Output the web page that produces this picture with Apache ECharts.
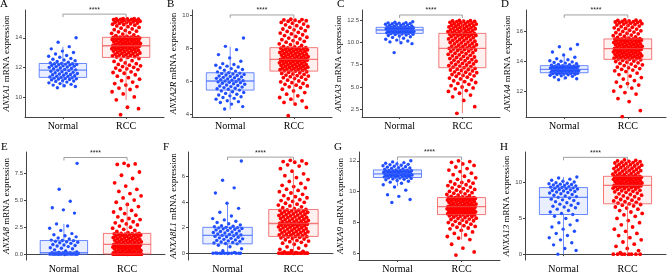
<!DOCTYPE html>
<html><head><meta charset="utf-8">
<script src="https://cdn.jsdelivr.net/npm/echarts@6/dist/echarts.min.js"></script>
<style>html,body{margin:0;padding:0;background:#fff}#c{width:669px;height:274px}</style>
</head><body><div id="c"></div>
<script>
const groups = ['Normal', 'RCC'];
const letters = ['A','B','C','D','E','F','G','H'];
const genes = ['ANXA1','ANXA2R','ANXA3','ANXA4','ANXA8','ANXA8L1','ANXA9','ANXA13'];
const sigLabel = '****';

// y-axis tick values per panel
const ticksA = [10, 12, 14];
const ticksB = [4, 6, 8, 10];
const ticksC = [2.5, 5, 7.5, 10, 12.5];
const ticksD = [12, 14, 16];
const ticksE = [0, 2.5, 5, 7.5];
const ticksF = [0, 2, 4, 6];
const ticksG = [6, 8, 10, 12];
const ticksH = [0, 5, 10];

// box stats [lower whisker, Q1, median, Q3, upper whisker] : Normal, RCC
const boxA = [[10.64, 11.32, 11.81, 12.26, 13.39], [9.78, 12.67, 13.46, 14.03, 15.3]];
const boxB = [[4.28, 5.45, 6.0, 6.5, 8.08], [4.65, 6.6, 7.31, 8.02, 9.74]];
const boxC = [[10.07, 11.0, 11.38, 11.68, 12.17], [2.05, 7.16, 9.33, 11.0, 12.5]];
const boxD = [[12.73, 13.22, 13.45, 13.69, 14.3], [12.18, 14.11, 14.82, 15.47, 16.73]];
const boxE = [[0, 0, 0.15, 1.26, 2.8], [0, 0.02, 0.9, 1.92, 4.75]];
const boxF = [[0, 0.73, 1.39, 2.02, 3.96], [0, 1.31, 2.32, 3.41, 6.5]];
const boxG = [[10.36, 10.92, 11.16, 11.41, 12.0], [6.9, 8.52, 9.04, 9.62, 12.0]];
const boxH = [[0, 5.55, 7.95, 9.32, 10.8], [0, 7.05, 9.64, 10.9, 13.2]];

// significance bracket heights
const sigY = [15.6, 10.0, 13.06, 17.07, 8.94, 7.5, 12.25, 13.55];

// expression values
const A_normal = [10.62,10.7,10.75,10.8,10.85,10.9,10.95,11.0,11.05,11.08,11.1,11.15,11.18,11.2,11.22,11.25,11.27,11.3,
11.32,11.35,11.38,11.4,11.43,11.46,11.5,11.52,11.55,11.58,11.6,11.63,11.66,11.7,11.74,11.78,11.8,
11.83,11.86,11.9,11.93,11.96,12.0,12.02,12.05,12.08,12.1,12.13,12.16,12.18,12.2,12.22,12.24,12.25,12.27,
12.3,12.35,12.4,12.45,12.5,12.55,12.6,12.68,12.75,12.8,12.9,13.0,13.1,13.25,13.4,13.7,14.0];
const A_rcc = [8.8,9.2,9.3,9.8,10.0,10.2,10.35,10.5,10.6,10.7,10.8,10.9,11.0,11.1,11.2,11.3,11.4,11.5,11.6,11.65,11.7,11.8,11.85,11.9,11.95,12.0,12.05,12.1,12.15,12.2,12.25,12.3,12.4,12.45,12.5,12.6,12.67,
12.7,12.72,12.75,12.78,12.8,12.83,12.85,12.88,12.9,12.92,12.95,12.97,13.0,13.02,13.05,13.07,13.1,13.12,13.14,13.16,13.18,13.2,13.22,13.24,13.26,13.28,13.3,13.32,13.34,13.36,13.38,13.4,13.42,13.43,13.44,13.45,13.46,13.47,
13.48,13.5,13.52,13.54,13.56,13.58,13.6,13.62,13.64,13.66,13.68,13.7,13.72,13.74,13.76,13.78,13.8,13.82,13.84,13.86,13.88,13.9,13.92,13.93,13.94,13.95,13.96,13.97,13.98,13.99,14.0,14.01,14.02,14.03,14.04,14.05,14.06,
14.1,14.15,14.2,14.25,14.3,14.35,14.4,14.45,14.5,14.55,14.6,14.65,14.7,14.75,14.8,14.85,14.9,14.92,14.95,14.98,15.0,15.02,15.05,15.08,15.1,15.12,15.14,15.16,15.18,15.2,15.22,15.24,15.25,15.26,15.27,15.28,15.29,15.3];

const B_normal = [4.3,4.45,4.6,4.7,4.75,4.8,4.9,4.95,5.0,5.05,5.1,5.15,5.2,5.25,5.3,5.35,5.4,5.45,
5.5,5.53,5.56,5.6,5.63,5.66,5.7,5.73,5.76,5.8,5.83,5.86,5.9,5.92,5.95,5.97,6.0,
6.02,6.05,6.08,6.1,6.13,6.16,6.2,6.22,6.25,6.28,6.3,6.33,6.36,6.4,6.43,6.46,6.48,6.5,
6.55,6.6,6.65,6.7,6.75,6.8,6.85,6.9,6.95,7.0,7.05,7.2,7.4,7.6,7.9,8.1,8.6];
const B_rcc = [3.9,4.4,4.6,4.7,4.8,4.9,5.0,5.1,5.2,5.3,5.4,5.5,5.6,5.65,5.7,5.75,5.8,5.85,5.9,5.95,6.0,6.05,6.1,6.15,6.2,6.23,6.26,6.3,6.33,6.36,6.4,6.43,6.46,6.5,6.53,6.56,6.6,
6.62,6.64,6.66,6.68,6.7,6.72,6.74,6.76,6.78,6.8,6.82,6.84,6.86,6.88,6.9,6.92,6.94,6.96,6.98,7.0,7.02,7.04,7.06,7.08,7.1,7.12,7.14,7.16,7.18,7.2,7.22,7.24,7.26,7.27,7.28,7.29,7.3,7.31,
7.33,7.35,7.37,7.39,7.41,7.43,7.45,7.47,7.49,7.51,7.53,7.55,7.57,7.59,7.61,7.63,7.65,7.67,7.69,7.71,7.73,7.75,7.77,7.79,7.81,7.83,7.85,7.87,7.89,7.91,7.93,7.95,7.97,7.99,8.0,8.01,8.02,
8.06,8.1,8.15,8.2,8.25,8.3,8.35,8.4,8.45,8.5,8.55,8.6,8.65,8.7,8.75,8.8,8.85,8.9,8.95,9.0,9.05,9.1,9.15,9.2,9.25,9.3,9.35,9.4,9.45,9.5,9.55,9.6,9.62,9.65,9.68,9.7,9.72,9.74];

const C_normal = [8.85,9.85,9.95,10.05,10.15,10.25,10.35,10.45,10.55,10.62,10.7,10.76,10.82,10.87,10.91,10.94,10.97,11.0,
11.03,11.06,11.08,11.1,11.12,11.14,11.16,11.18,11.2,11.22,11.24,11.27,11.29,11.31,11.33,11.35,11.38,
11.4,11.42,11.44,11.46,11.48,11.5,11.52,11.54,11.56,11.58,11.6,11.62,11.63,11.64,11.65,11.66,11.67,11.68,
11.72,11.76,11.8,11.84,11.88,11.92,11.96,12.0,12.03,12.06,12.09,12.12,12.15,12.18,12.21,12.25,12.3];
const C_rcc = [2.05,2.8,3.5,3.9,4.1,4.3,4.5,4.6,4.8,4.9,5.0,5.15,5.3,5.4,5.5,5.6,5.7,5.8,5.9,6.0,6.1,6.2,6.25,6.3,6.4,6.45,6.5,6.6,6.65,6.7,6.8,6.85,6.9,6.95,7.0,7.08,7.16,
7.22,7.28,7.34,7.4,7.46,7.52,7.58,7.64,7.7,7.76,7.82,7.88,7.94,8.0,8.06,8.12,8.18,8.24,8.3,8.36,8.42,8.48,8.54,8.6,8.66,8.72,8.78,8.84,8.9,8.96,9.02,9.08,9.14,9.2,9.24,9.28,9.31,9.33,
9.38,9.43,9.48,9.53,9.58,9.63,9.68,9.73,9.78,9.83,9.88,9.93,9.98,10.03,10.08,10.13,10.18,10.23,10.28,10.33,10.38,10.43,10.48,10.53,10.58,10.63,10.68,10.73,10.77,10.8,10.84,10.87,10.9,10.93,10.96,10.98,11.0,
11.04,11.08,11.12,11.16,11.2,11.24,11.28,11.32,11.36,11.4,11.44,11.48,11.52,11.56,11.6,11.64,11.68,11.72,11.76,11.8,11.84,11.88,11.92,11.96,12.0,12.04,12.08,12.12,12.16,12.2,12.24,12.28,12.32,12.35,12.38,12.4,12.42,12.45];

const D_normal = [12.75,12.82,12.88,12.93,12.98,13.02,13.05,13.08,13.1,13.12,13.14,13.16,13.17,13.18,13.19,13.2,13.21,13.22,
13.24,13.26,13.27,13.29,13.3,13.32,13.33,13.35,13.36,13.37,13.38,13.4,13.41,13.42,13.43,13.44,13.45,
13.47,13.48,13.5,13.51,13.53,13.54,13.56,13.57,13.59,13.6,13.62,13.63,13.64,13.65,13.66,13.67,13.68,13.69,
13.72,13.75,13.78,13.82,13.86,13.9,13.94,13.98,14.02,14.08,14.15,14.25,14.4,14.6,14.8,14.95,15.1];
const D_rcc = [10.3,10.7,11.3,11.5,11.8,11.9,12.0,12.2,12.3,12.4,12.5,12.6,12.7,12.8,12.9,13.0,13.1,13.2,13.3,13.35,13.4,13.45,13.5,13.55,13.6,13.65,13.7,13.75,13.8,13.84,13.88,13.92,13.96,14.0,14.04,14.08,14.11,
14.13,14.15,14.17,14.19,14.21,14.23,14.25,14.27,14.29,14.31,14.33,14.35,14.37,14.39,14.41,14.43,14.45,14.47,14.49,14.51,14.53,14.55,14.57,14.59,14.61,14.63,14.65,14.67,14.69,14.71,14.73,14.75,14.77,14.78,14.79,14.8,14.81,14.82,
14.84,14.86,14.88,14.9,14.92,14.94,14.96,14.98,15.0,15.02,15.04,15.06,15.08,15.1,15.12,15.14,15.16,15.18,15.2,15.22,15.24,15.26,15.28,15.3,15.32,15.34,15.36,15.38,15.4,15.42,15.43,15.44,15.45,15.46,15.47,15.48,15.49,
15.53,15.57,15.61,15.65,15.69,15.73,15.77,15.81,15.85,15.89,15.93,15.97,16.01,16.05,16.09,16.13,16.17,16.21,16.25,16.29,16.33,16.37,16.4,16.43,16.46,16.49,16.52,16.54,16.56,16.58,16.6,16.62,16.64,16.66,16.68,16.7,16.72,16.74];

const E_normal = [0,0,0,0,0,0,0,0,0,0,0,0,0,0,0,0,0.02,0.03,
0.04,0.05,0.05,0.06,0.07,0.08,0.08,0.09,0.1,0.1,0.11,0.12,0.12,0.13,0.14,0.14,0.15,
0.2,0.3,0.4,0.5,0.55,0.6,0.7,0.75,0.8,0.85,0.9,1.0,1.05,1.1,1.15,1.2,1.25,1.26,
1.3,1.4,1.5,1.6,1.7,1.8,1.9,2.2,2.4,2.6,2.8,3.8,4.1,4.3,4.9,6.0,8.4];
const E_rcc = [0,0,0,0,0,0,0,0,0,0,0,0,0,0,0,0,0,0,0,0,0,0,0,0,0,0,0,0,0,0,0.01,0.01,0.01,0.01,0.02,0.02,0.02,
0.05,0.08,0.1,0.12,0.15,0.18,0.2,0.22,0.25,0.28,0.3,0.33,0.36,0.39,0.42,0.45,0.48,0.5,0.52,0.55,0.57,0.6,0.62,0.64,0.66,0.68,0.7,0.72,0.74,0.76,0.78,0.8,0.82,0.84,0.85,0.87,0.88,0.9,
0.93,0.96,0.99,1.02,1.05,1.08,1.11,1.14,1.17,1.2,1.23,1.26,1.29,1.32,1.35,1.38,1.41,1.44,1.47,1.5,1.53,1.56,1.59,1.62,1.65,1.68,1.71,1.74,1.77,1.8,1.82,1.84,1.86,1.88,1.9,1.91,1.92,
2.0,2.1,2.2,2.3,2.4,2.5,2.6,2.7,2.8,2.9,3.0,3.1,3.2,3.3,3.45,3.6,3.75,3.9,4.05,4.2,4.4,4.6,4.8,5.0,5.2,5.4,5.6,5.8,6.0,6.3,6.6,7.0,7.3,7.6,8.2,8.3,8.35,8.4];

const F_normal = [0,0,0,0,0,0,0,0,0,0,0,0.02,0.05,0.2,0.35,0.5,0.62,0.73,
0.76,0.8,0.84,0.88,0.92,0.96,1.0,1.04,1.08,1.12,1.16,1.2,1.24,1.28,1.32,1.36,1.39,
1.42,1.46,1.5,1.54,1.58,1.62,1.66,1.7,1.74,1.78,1.82,1.86,1.9,1.93,1.96,1.98,2.0,2.02,
2.06,2.1,2.15,2.2,2.3,2.4,2.5,2.6,2.7,2.9,3.2,3.5,3.9,4.7,5.1,5.7,7.2];
const F_rcc = [0,0,0,0,0,0,0,0,0,0,0,0,0,0,0,0.05,0.1,0.15,0.2,0.3,0.4,0.5,0.6,0.7,0.78,0.85,0.9,0.95,1.0,1.05,1.1,1.15,1.2,1.24,1.27,1.29,1.31,
1.34,1.37,1.4,1.43,1.46,1.49,1.52,1.55,1.58,1.61,1.64,1.67,1.7,1.73,1.76,1.79,1.82,1.85,1.88,1.91,1.94,1.97,2.0,2.03,2.06,2.09,2.12,2.15,2.18,2.2,2.22,2.24,2.26,2.28,2.29,2.3,2.31,2.32,
2.35,2.38,2.41,2.44,2.47,2.5,2.53,2.56,2.59,2.62,2.65,2.68,2.71,2.74,2.77,2.8,2.83,2.86,2.89,2.92,2.95,2.98,3.01,3.04,3.07,3.1,3.13,3.16,3.19,3.22,3.25,3.28,3.31,3.34,3.37,3.39,3.41,
3.48,3.55,3.62,3.69,3.76,3.83,3.9,3.97,4.04,4.11,4.18,4.25,4.33,4.41,4.5,4.6,4.7,4.8,4.9,5.0,5.1,5.2,5.3,5.45,5.6,5.75,5.9,6.05,6.2,6.4,6.6,6.8,6.9,7.0,7.1,7.15,7.2,7.25];

const G_normal = [9.3,9.5,9.7,9.8,10.1,10.3,10.45,10.55,10.62,10.68,10.73,10.77,10.8,10.83,10.86,10.88,10.9,10.92,
10.94,10.96,10.97,10.99,11.0,11.02,11.03,11.05,11.06,11.08,11.09,11.1,11.11,11.12,11.13,11.15,11.16,
11.18,11.19,11.21,11.22,11.24,11.25,11.27,11.28,11.3,11.31,11.33,11.34,11.35,11.36,11.37,11.38,11.39,11.41,
11.44,11.47,11.5,11.53,11.56,11.59,11.62,11.65,11.68,11.71,11.74,11.77,11.8,11.84,11.88,11.93,12.0];
const G_rcc = [5.9,6.1,6.35,6.6,6.9,7.0,7.1,7.2,7.3,7.4,7.5,7.6,7.65,7.7,7.75,7.8,7.85,7.9,7.95,8.0,8.04,8.08,8.12,8.16,8.2,8.23,8.26,8.29,8.32,8.35,8.38,8.41,8.44,8.46,8.48,8.5,8.52,
8.53,8.55,8.56,8.58,8.59,8.61,8.62,8.64,8.65,8.67,8.68,8.7,8.71,8.73,8.74,8.76,8.77,8.79,8.8,8.82,8.83,8.85,8.86,8.88,8.89,8.91,8.92,8.94,8.95,8.97,8.98,8.99,9.0,9.01,9.02,9.03,9.04,9.04,
9.06,9.08,9.1,9.12,9.14,9.16,9.18,9.2,9.22,9.24,9.26,9.28,9.3,9.32,9.34,9.36,9.38,9.4,9.42,9.44,9.46,9.48,9.5,9.51,9.52,9.53,9.54,9.55,9.56,9.57,9.58,9.59,9.6,9.6,9.61,9.61,9.62,
9.66,9.7,9.74,9.78,9.82,9.86,9.9,9.94,9.98,10.02,10.06,10.1,10.15,10.2,10.25,10.3,10.35,10.4,10.45,10.5,10.55,10.6,10.65,10.7,10.8,10.9,11.0,11.1,11.2,11.3,11.4,11.5,11.6,11.7,11.8,11.9,11.95,12.0];

const H_normal = [0.0,0.5,0.8,1.3,1.6,2.0,2.3,2.6,2.9,3.2,3.5,3.8,4.1,4.4,4.7,5.0,5.3,5.55,
5.7,5.9,6.1,6.3,6.5,6.6,6.7,6.85,7.0,7.1,7.2,7.35,7.5,7.6,7.7,7.85,7.95,
8.05,8.15,8.25,8.35,8.45,8.55,8.62,8.7,8.78,8.85,8.92,9.0,9.06,9.12,9.18,9.24,9.28,9.32,
9.38,9.44,9.5,9.56,9.62,9.68,9.74,9.8,9.86,9.92,10.0,10.1,10.2,10.35,10.5,10.65,10.8];
const H_rcc = [0,0,0,0,0,0,0,0,0.2,0.5,0.8,1.1,1.4,1.7,2.0,2.3,2.6,2.9,3.2,3.5,3.8,4.1,4.4,4.7,5.0,5.3,5.5,5.7,5.9,6.1,6.3,6.45,6.6,6.75,6.85,6.95,7.05,
7.15,7.25,7.35,7.45,7.55,7.65,7.75,7.85,7.95,8.05,8.15,8.25,8.35,8.45,8.55,8.65,8.72,8.79,8.86,8.93,9.0,9.06,9.12,9.18,9.24,9.3,9.35,9.4,9.44,9.48,9.51,9.54,9.56,9.58,9.6,9.62,9.63,9.64,
9.68,9.72,9.76,9.8,9.84,9.88,9.92,9.96,10.0,10.04,10.08,10.12,10.16,10.2,10.24,10.28,10.32,10.36,10.4,10.44,10.48,10.52,10.56,10.6,10.63,10.66,10.69,10.72,10.75,10.78,10.8,10.82,10.84,10.86,10.87,10.89,10.9,
10.96,11.02,11.08,11.14,11.2,11.26,11.32,11.38,11.44,11.5,11.56,11.62,11.68,11.74,11.8,11.86,11.92,11.98,12.04,12.1,12.16,12.22,12.28,12.34,12.4,12.46,12.52,12.58,12.64,12.7,12.76,12.82,12.88,12.94,13.0,13.06,13.12,13.2];

// ---- layout / style (not data) ----
const panels = [
  {n:[A_normal,A_rcc], box:boxA, ticks:ticksA, dec:0, min:8.64, max:15.88, l:25, r:164, row:0, gap:10},
  {n:[B_normal,B_rcc], box:boxB, ticks:ticksB, dec:0, min:3.82, max:10.3, l:192, r:332, row:0, gap:10},
  {n:[C_normal,C_rcc], box:boxC, ticks:ticksC, dec:1, min:1.64, max:13.62, l:362, r:500, row:0, gap:12},
  {n:[D_normal,D_rcc], box:boxD, ticks:ticksD, dec:0, min:10.27, max:17.4, l:526, r:666, row:0, gap:11},
  {n:[E_normal,E_rcc], box:boxE, ticks:ticksE, dec:1, min:-0.54, max:9.45, l:26, r:165, row:1, gap:12},
  {n:[F_normal,F_rcc], box:boxF, ticks:ticksF, dec:0, min:-0.53, max:7.9, l:188, r:333, row:1, gap:8},
  {n:[G_normal,G_rcc], box:boxG, ticks:ticksG, dec:0, min:5.58, max:12.57, l:359, r:500, row:1, gap:12},
  {n:[H_normal,H_rcc], box:boxH, ticks:ticksH, dec:0, min:-0.82, max:14.3, l:525, r:666, row:1, gap:12}
];
const rows = [{top:10, bottom:117}, {top:152, bottom:263}];
const serif = 'Liberation Serif';
const ptColor = ['#1f4dff', '#ff0000'];
const ptSize = [3.4, 3.8];
const boxStroke = ['rgba(60,100,255,0.75)', 'rgba(240,80,80,0.75)'];
const boxFill = ['rgba(80,120,255,0.12)', 'rgba(255,110,110,0.10)'];

const grid = [], xAxis = [], yAxis = [], series = [], title = [];
panels.forEach((p, k) => {
  const r = rows[p.row];
  grid.push({left:p.l, top:r.top, width:p.r - p.l, height:r.bottom - r.top});
  title.push({text:letters[k], left:p.l - 25, top:p.row ? 142 : -1, padding:0,
    textStyle:{fontFamily:serif, fontWeight:'normal', fontSize:11, color:'#000'}});
  xAxis.push({type:'value', gridIndex:k, min:0.4, max:2.6, splitLine:{show:false},
    axisLine:{lineStyle:{color:'#444', width:1}},
    axisTick:{customValues:[1,2], length:2, lineStyle:{color:'#444'}},
    axisLabel:{customValues:[1,2], formatter:v => groups[Math.round(v) - 1], fontFamily:serif, fontSize:10, color:'#000', margin:4}});
  yAxis.push({type:'value', gridIndex:k, min:p.min, max:p.max, splitLine:{show:false},
    axisLine:{show:true, lineStyle:{color:'#444', width:1}},
    axisTick:{show:true, customValues:p.ticks, length:2, lineStyle:{color:'#444'}},
    axisLabel:{customValues:p.ticks, formatter:v => v.toFixed(p.dec), fontFamily:'Liberation Sans', fontSize:6, color:'#444', margin:3},
    name:'{i|' + genes[k] + '} mRNA expression', nameLocation:'middle', nameGap:p.gap,
    nameTextStyle:{fontFamily:serif, fontSize:9, color:'#000', rich:{i:{fontFamily:serif, fontSize:9, fontStyle:'italic', color:'#000'}}}});

  const boxData = p.box.map((b, g) => [g + 1].concat(b));
  const mkBox = (withFill) => function (params, api) {
    const g = Math.round(api.value(0)) - 1;
    const x = api.value(0);
    const w = api.size([0.75, 0])[0];
    const c = (v) => api.coord([x, v]);
    const lo = c(api.value(1)), q1 = c(api.value(2)), md = c(api.value(3)), q3 = c(api.value(4)), hi = c(api.value(5));
    const xl = lo[0] - w / 2;
    if (withFill) {
      return {type:'rect', shape:{x:xl, y:q3[1], width:w, height:q1[1] - q3[1]}, style:{fill:boxFill[g], stroke:null}};
    }
    const st = {stroke:boxStroke[g], lineWidth:1, fill:null};
    return {type:'group', children:[
      {type:'line', shape:{x1:lo[0], y1:lo[1], x2:q1[0], y2:q1[1]}, style:st},
      {type:'line', shape:{x1:q3[0], y1:q3[1], x2:hi[0], y2:hi[1]}, style:st},
      {type:'rect', shape:{x:xl, y:q3[1], width:w, height:q1[1] - q3[1]}, style:st},
      {type:'line', shape:{x1:xl, y1:md[1], x2:xl + w, y2:md[1]}, style:{stroke:boxStroke[g], lineWidth:1.3}}
    ]};
  };
  series.push({type:'custom', xAxisIndex:k, yAxisIndex:k, z:1, renderItem:mkBox(true), data:boxData, silent:true});
  p.n.forEach((vals, g) => {
    series.push({type:'scatter', xAxisIndex:k, yAxisIndex:k, z:2, symbol:'circle', symbolSize:ptSize[g], silent:true,
      itemStyle:{color:ptColor[g], opacity:1},
      data:vals.map((v, i) => [g + 1 + (((i * 0.618034 + 0.31) % 1) - 0.5) * 0.46, v])});
  });
  series.push({type:'custom', xAxisIndex:k, yAxisIndex:k, z:3, renderItem:mkBox(false), data:boxData, silent:true});
  series.push({type:'custom', xAxisIndex:k, yAxisIndex:k, z:4, silent:true, data:[[1, 2, sigY[k]]],
    renderItem:function (params, api) {
      const a = api.coord([api.value(0), api.value(2)]), b = api.coord([api.value(1), api.value(2)]);
      return {type:'group', children:[
        {type:'polyline', shape:{points:[[a[0], a[1] + 3], [a[0], a[1]], [b[0], b[1]], [b[0], b[1] + 3]]}, style:{stroke:'#888', lineWidth:0.8, fill:null}},
        {type:'text', style:{text:sigLabel, x:(a[0] + b[0]) / 2, y:a[1] - 1, align:'center', verticalAlign:'bottom', fontFamily:'Liberation Sans', fontSize:7, fill:'#222'}}
      ]};
    }});
});

const chart = echarts.init(document.getElementById('c'), null, {renderer:'canvas'});
chart.setOption({animation:false, backgroundColor:'#fff', title, grid, xAxis, yAxis, series});
</script></body></html>
